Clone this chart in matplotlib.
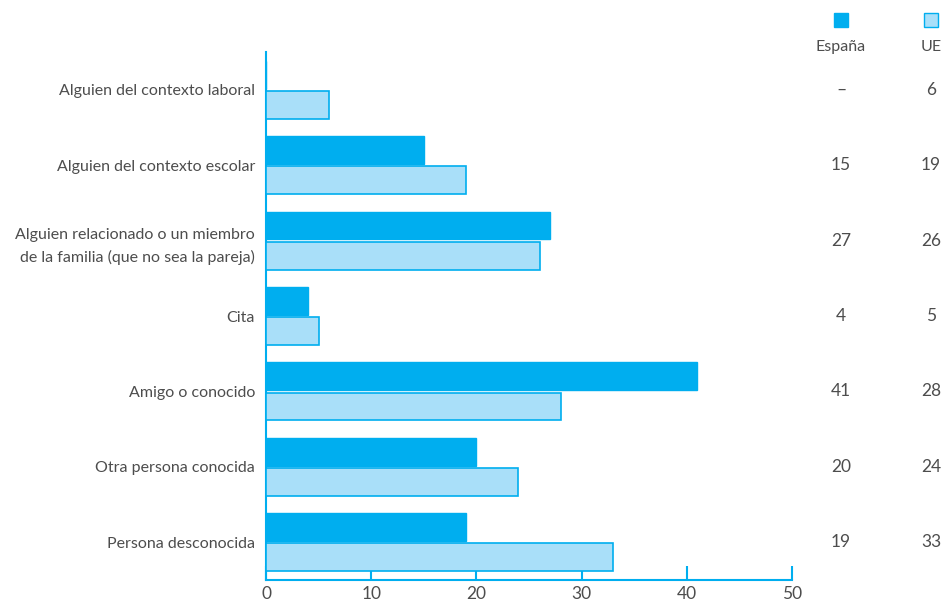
import numpy as np
import matplotlib.pyplot as plt

categories = [
    "Alguien del contexto laboral",
    "Alguien del contexto escolar",
    "Alguien relacionado o un miembro\nde la familia (que no sea la pareja)",
    "Cita",
    "Amigo o conocido",
    "Otra persona conocida",
    "Persona desconocida",
]
espana = [np.nan, 15, 27, 4, 41, 20, 19]
ue = [6, 19, 26, 5, 28, 24, 33]
x_ticks = [0, 10, 20, 30, 40, 50]

BLUE = "#00AEEF"
LIGHT = "#A9DFF9"
TEXT = "#4d4d4d"

plt.rcParams["font.family"] = ["Lato", "DejaVu Sans"]

fig = plt.figure(figsize=(9.43, 6.08), dpi=100)
ax = fig.add_axes([266 / 943, 1 - 580 / 608, (792 - 266) / 943, (580 - 52) / 608])

y = np.arange(len(categories))
h = 0.37
esp_vals = np.nan_to_num(espana)
ax.barh(y - 0.2, esp_vals, height=h, color=BLUE, edgecolor=BLUE, linewidth=1, zorder=3)
ax.barh(y + 0.2, ue, height=h, color=LIGHT, edgecolor=BLUE, linewidth=1.2, zorder=3)

ax.set_xlim(0, 50)
ax.set_ylim(6.5, -0.5)
ax.set_yticks(y)
ax.set_yticklabels(categories, fontsize=11.5, color=TEXT,
                   ha="right", multialignment="right", linespacing=1.7)
ax.tick_params(axis="y", length=0, pad=8)
ax.set_xticks(x_ticks)
ax.tick_params(axis="x", direction="in", length=10, width=1.5, color=BLUE,
               labelsize=12.5, labelcolor=TEXT, pad=4)

for side in ["top", "right"]:
    ax.spines[side].set_visible(False)
ax.spines["left"].set_color(BLUE)
ax.spines["bottom"].set_color(BLUE)
ax.spines["left"].set_linewidth(1.5)
ax.spines["bottom"].set_linewidth(1.5)

# right-hand value columns
col_esp = 841 / 943
col_ue = 931 / 943
for i in range(len(categories)):
    yc = 1 - (90 + i * 75.33) / 608
    txt_e = "–" if np.isnan(espana[i]) else f"{espana[i]:g}"
    fig.text(col_esp, yc, txt_e, ha="center", va="center", fontsize=12.5, color=TEXT)
    fig.text(col_ue, yc, f"{ue[i]:g}", ha="center", va="center", fontsize=12.5, color=TEXT)

# legend squares
sq = 14
for xc, fc in [(col_esp, BLUE), (col_ue, LIGHT)]:
    fig.patches.append(plt.Rectangle((xc - sq / 2 / 943, 1 - 27 / 608), sq / 943, sq / 608,
                                     transform=fig.transFigure, facecolor=fc,
                                     edgecolor=BLUE, linewidth=1))
fig.text(col_esp, 1 - 47 / 608, "España", ha="center", va="center", fontsize=11.5, color=TEXT)
fig.text(col_ue, 1 - 47 / 608, "UE", ha="center", va="center", fontsize=11.5, color=TEXT)

fig.savefig("out.png", dpi=100)
